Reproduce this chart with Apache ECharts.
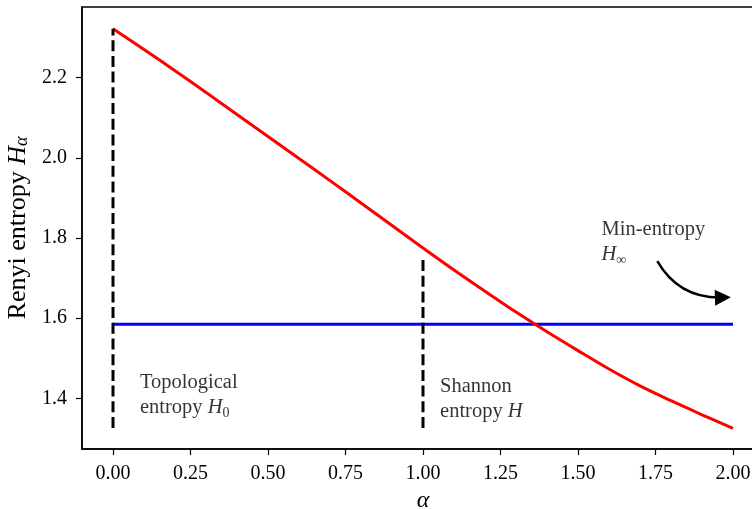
<!DOCTYPE html>
<html><head><meta charset="utf-8">
<script src="https://cdn.jsdelivr.net/npm/echarts@6/dist/echarts.min.js"></script>
<style>html,body{margin:0;padding:0;background:#fff}#c{width:752px;height:509px}</style>
</head><body><div id="c"></div>
<script>
// ---- data ----
const alphas = [0.0,0.1,0.2,0.3,0.4,0.5,0.6,0.7,0.8,0.9,1.0,1.1,1.2,1.3,1.4,1.5,1.6,1.7,1.8,1.9,2.0];
const renyi  = [2.322,2.270,2.217,2.163,2.108,2.053,1.998,1.943,1.887,1.831,1.775,1.720,1.667,1.615,1.566,1.519,1.473,1.431,1.394,1.359,1.325];
const minEntropy = 1.585;
const minEntropySpan = [0, 2];
const dashX = [0, 1];
const dashTop = [2.322, 1.756];
const dashBottom = 1.326;
const xTicks = [0,0.25,0.5,0.75,1.0,1.25,1.5,1.75,2.0];
const yTicks = [1.4,1.6,1.8,2.0,2.2];
const xRange = [-0.1, 2.1];
const yRange = [1.2736, 2.376];
const annoText = [
  'Topological\nentropy {i|H}{s|0}',
  'Shannon\nentropy {i|H}',
  'Min-entropy\n{i|H}{s|∞}'
];
const annoX = [0.087, 1.055, 1.576];
const annoY = [1.408, 1.399, 1.790];
const arrowFrom = [1.7558, 1.7422];
const arrowTo = [1.9674, 1.6515];

// ---- chart ----
const SERIF = '"Liberation Serif", "DejaVu Serif", serif';
const FS = 20;
const AFS = 20.5;
const rich = {
  i: {fontFamily: SERIF, fontStyle: 'italic', fontSize: AFS, color: '#000'},
  s: {fontFamily: SERIF, fontSize: 14, color: '#000', verticalAlign: 'bottom', lineHeight: 12}
};
const richName = {
  i: {fontFamily: SERIF, fontStyle: 'italic', fontSize: 26, color: '#000'},
  s: {fontFamily: SERIF, fontStyle: 'italic', fontSize: 18, color: '#000', verticalAlign: 'bottom', lineHeight: 14}
};
const chart = echarts.init(document.getElementById('c'), null, {renderer: 'canvas'});
const axisCommon = {
  axisLine: {show: true, onZero: false, lineStyle: {color: '#000', width: 1.5}},
  splitLine: {show: false}
};
chart.setOption({
  animation: false,
  backgroundColor: '#fff',
  grid: {left: 82, top: 7, right: -12, bottom: 60, outerBoundsMode: 'none', containLabel: false,
    show: true, borderColor: '#000', borderWidth: 1.5, backgroundColor: 'transparent'},
  xAxis: Object.assign({
    type: 'value', min: xRange[0], max: xRange[1],
    name: 'α', nameLocation: 'middle', nameGap: 27,
    nameTextStyle: {fontFamily: SERIF, fontStyle: 'italic', fontSize: 24, color: '#000'},
    axisTick: {show: true, length: 6, customValues: xTicks, lineStyle: {color: '#000', width: 1.2}},
    axisLabel: {customValues: xTicks, margin: 15, fontFamily: SERIF, fontSize: FS, color: '#000',
      formatter: v => v.toFixed(2)}
  }, axisCommon),
  yAxis: Object.assign({
    type: 'value', min: yRange[0], max: yRange[1],
    name: 'Renyi entropy {i|H}{s|α}', nameLocation: 'middle', nameGap: 50, nameRotate: 90,
    nameTextStyle: {fontFamily: SERIF, fontSize: 26, color: '#000', rich: richName},
    axisTick: {show: true, length: 6, customValues: yTicks, lineStyle: {color: '#000', width: 1.2}},
    axisLabel: {customValues: yTicks, margin: 15, fontFamily: SERIF, fontSize: FS, color: '#000',
      formatter: v => v.toFixed(1)}
  }, axisCommon),
  series: [
    {type: 'line', name: 'renyi', data: alphas.map((a, i) => [a, renyi[i]]), showSymbol: false, smooth: 0.3,
      lineStyle: {color: '#ff0000', width: 3}, z: 3},
    {type: 'line', name: 'min', data: minEntropySpan.map(a => [a, minEntropy]), showSymbol: false,
      lineStyle: {color: '#0000ff', width: 3}, z: 2},
    ...dashX.map((x, i) => ({
      type: 'line', data: [[x, dashBottom], [x, dashTop[i]]], showSymbol: false,
      lineStyle: {color: '#000', width: 3, type: [11, 4.7]}, z: 4
    })),
    {type: 'lines', coordinateSystem: 'cartesian2d', z: 5,
      symbol: ['none', 'triangle'], symbolSize: [9, 16],
      lineStyle: {color: '#000', width: 2.5, curveness: -0.3, opacity: 1},
      itemStyle: {color: '#000'},
      data: [{coords: [arrowFrom, arrowTo]}]},
    {type: 'scatter', symbolSize: 0, z: 6,
      data: annoText.map((t, i) => ({value: [annoX[i], annoY[i]], name: t})),
      label: {show: true, position: 'inside', align: 'left', verticalAlign: 'middle',
        formatter: p => p.name, fontFamily: SERIF, fontSize: AFS, lineHeight: 25, color: '#000', rich: rich}}
  ]
});
</script></body></html>
